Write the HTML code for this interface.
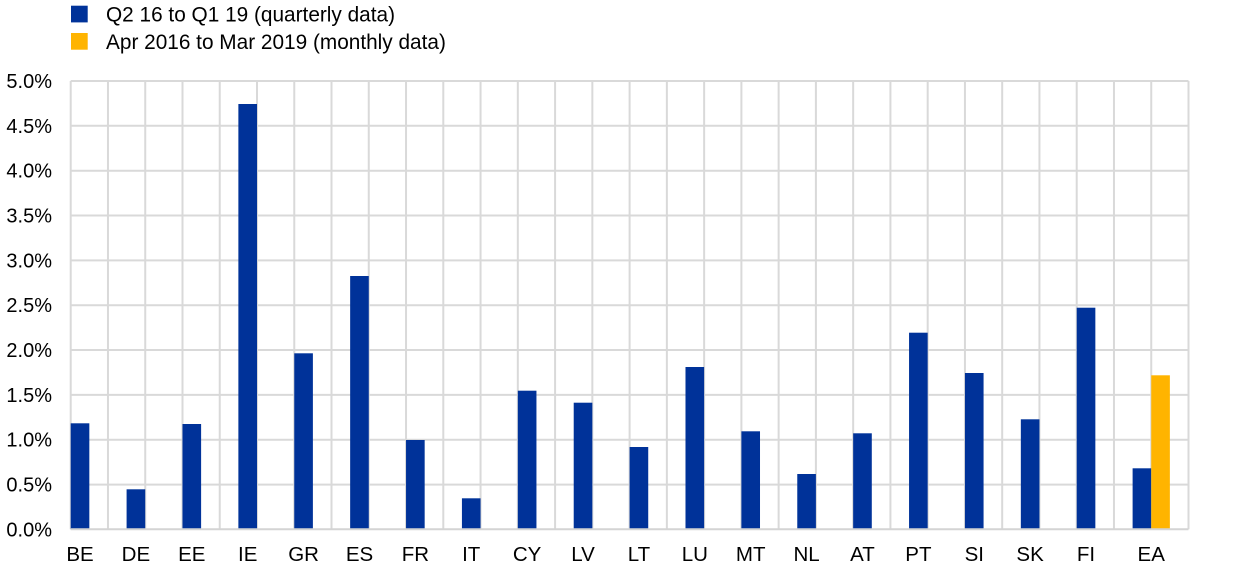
<!DOCTYPE html>
<html>
<head>
<meta charset="utf-8">
<style>
  html, body { margin: 0; padding: 0; background: #ffffff; }
  svg { display: block; }
  text { font-family: "Liberation Sans", Arial, sans-serif; fill: #000; }
</style>
</head>
<body>
<svg width="1240" height="575" viewBox="0 0 1240 575" xmlns="http://www.w3.org/2000/svg">
  <!-- Legend -->
  <rect x="71" y="5.7" width="16.7" height="16.7" fill="#003299"/>
  <text x="106" y="21.5" font-size="20.8">Q2 16 to Q1 19 (quarterly data)</text>
  <rect x="71" y="33" width="16.7" height="16.7" fill="#FFB400"/>
  <text x="106" y="48.8" font-size="20.8">Apr 2016 to Mar 2019 (monthly data)</text>

  <!-- Horizontal gridlines -->
  <g stroke="#d9d9d9" stroke-width="2">
    <line x1="70.7" y1="81" x2="1188.5" y2="81"/>
    <line x1="70.7" y1="125.8" x2="1188.5" y2="125.8"/>
    <line x1="70.7" y1="170.7" x2="1188.5" y2="170.7"/>
    <line x1="70.7" y1="215.5" x2="1188.5" y2="215.5"/>
    <line x1="70.7" y1="260.4" x2="1188.5" y2="260.4"/>
    <line x1="70.7" y1="305.2" x2="1188.5" y2="305.2"/>
    <line x1="70.7" y1="350.0" x2="1188.5" y2="350.0"/>
    <line x1="70.7" y1="394.9" x2="1188.5" y2="394.9"/>
    <line x1="70.7" y1="439.7" x2="1188.5" y2="439.7"/>
    <line x1="70.7" y1="484.6" x2="1188.5" y2="484.6"/>
  </g>
  <!-- Vertical gridlines -->
  <g stroke="#d9d9d9" stroke-width="2">
    <line x1="70.7" y1="81" x2="70.7" y2="529.3"/>
    <line x1="107.96" y1="81" x2="107.96" y2="529.3"/>
    <line x1="145.22" y1="81" x2="145.22" y2="529.3"/>
    <line x1="182.48" y1="81" x2="182.48" y2="529.3"/>
    <line x1="219.74" y1="81" x2="219.74" y2="529.3"/>
    <line x1="257.0" y1="81" x2="257.0" y2="529.3"/>
    <line x1="294.26" y1="81" x2="294.26" y2="529.3"/>
    <line x1="331.52" y1="81" x2="331.52" y2="529.3"/>
    <line x1="368.78" y1="81" x2="368.78" y2="529.3"/>
    <line x1="406.04" y1="81" x2="406.04" y2="529.3"/>
    <line x1="443.3" y1="81" x2="443.3" y2="529.3"/>
    <line x1="480.56" y1="81" x2="480.56" y2="529.3"/>
    <line x1="517.82" y1="81" x2="517.82" y2="529.3"/>
    <line x1="555.08" y1="81" x2="555.08" y2="529.3"/>
    <line x1="592.34" y1="81" x2="592.34" y2="529.3"/>
    <line x1="629.6" y1="81" x2="629.6" y2="529.3"/>
    <line x1="666.86" y1="81" x2="666.86" y2="529.3"/>
    <line x1="704.12" y1="81" x2="704.12" y2="529.3"/>
    <line x1="741.38" y1="81" x2="741.38" y2="529.3"/>
    <line x1="778.64" y1="81" x2="778.64" y2="529.3"/>
    <line x1="815.9" y1="81" x2="815.9" y2="529.3"/>
    <line x1="853.16" y1="81" x2="853.16" y2="529.3"/>
    <line x1="890.42" y1="81" x2="890.42" y2="529.3"/>
    <line x1="927.68" y1="81" x2="927.68" y2="529.3"/>
    <line x1="964.94" y1="81" x2="964.94" y2="529.3"/>
    <line x1="1002.2" y1="81" x2="1002.2" y2="529.3"/>
    <line x1="1039.46" y1="81" x2="1039.46" y2="529.3"/>
    <line x1="1076.72" y1="81" x2="1076.72" y2="529.3"/>
    <line x1="1113.98" y1="81" x2="1113.98" y2="529.3"/>
    <line x1="1151.24" y1="81" x2="1151.24" y2="529.3"/>
    <line x1="1188.5" y1="81" x2="1188.5" y2="529.3"/>
  </g>

  <!-- Bars -->
  <g fill="#003299">
    <rect x="70.7"   y="423.3" width="18.63" height="106.0"/>
    <rect x="126.59" y="489.3" width="18.63" height="40.0"/>
    <rect x="182.48" y="424.0" width="18.63" height="105.3"/>
    <rect x="238.37" y="104.0" width="18.63" height="425.3"/>
    <rect x="294.26" y="353.3" width="18.63" height="176.0"/>
    <rect x="350.15" y="276.0" width="18.63" height="253.3"/>
    <rect x="406.04" y="440.0" width="18.63" height="89.3"/>
    <rect x="461.93" y="498.3" width="18.63" height="31.0"/>
    <rect x="517.82" y="390.7" width="18.63" height="138.6"/>
    <rect x="573.71" y="402.7" width="18.63" height="126.6"/>
    <rect x="629.6"  y="447.0" width="18.63" height="82.3"/>
    <rect x="685.49" y="367.0" width="18.63" height="162.3"/>
    <rect x="741.38" y="431.3" width="18.63" height="98.0"/>
    <rect x="797.27" y="474.0" width="18.63" height="55.3"/>
    <rect x="853.16" y="433.3" width="18.63" height="96.0"/>
    <rect x="909.05" y="332.7" width="18.63" height="196.6"/>
    <rect x="964.94" y="373.0" width="18.63" height="156.3"/>
    <rect x="1020.83" y="419.3" width="18.63" height="110.0"/>
    <rect x="1076.72" y="307.7" width="18.63" height="221.6"/>
    <rect x="1132.61" y="468.3" width="18.63" height="61.0"/>
  </g>
  <rect x="1151.24" y="375.3" width="18.63" height="154.0" fill="#FFB400"/>

  <!-- Bottom axis line -->
  <line x1="70.7" y1="529.3" x2="1188.5" y2="529.3" stroke="#d4d4d4" stroke-width="2"/>

  <!-- Y axis labels -->
  <g font-size="20" text-anchor="end">
    <text x="52" y="88">5.0%</text>
    <text x="52" y="132.8">4.5%</text>
    <text x="52" y="177.7">4.0%</text>
    <text x="52" y="222.5">3.5%</text>
    <text x="52" y="267.4">3.0%</text>
    <text x="52" y="312.2">2.5%</text>
    <text x="52" y="357.0">2.0%</text>
    <text x="52" y="401.9">1.5%</text>
    <text x="52" y="446.7">1.0%</text>
    <text x="52" y="491.6">0.5%</text>
    <text x="52" y="536.4">0.0%</text>
  </g>

  <!-- X axis labels -->
  <g font-size="20.5" text-anchor="middle">
    <text x="80.0"   y="561">BE</text>
    <text x="135.9"  y="561">DE</text>
    <text x="191.8"  y="561">EE</text>
    <text x="247.7"  y="561">IE</text>
    <text x="303.6"  y="561">GR</text>
    <text x="359.5"  y="561">ES</text>
    <text x="415.4"  y="561">FR</text>
    <text x="471.2"  y="561">IT</text>
    <text x="527.1"  y="561">CY</text>
    <text x="583.0"  y="561">LV</text>
    <text x="638.9"  y="561">LT</text>
    <text x="694.8"  y="561">LU</text>
    <text x="750.7"  y="561">MT</text>
    <text x="806.6"  y="561">NL</text>
    <text x="862.5"  y="561">AT</text>
    <text x="918.4"  y="561">PT</text>
    <text x="974.3"  y="561">SI</text>
    <text x="1030.1" y="561">SK</text>
    <text x="1086.0" y="561">FI</text>
    <text x="1151.2" y="561">EA</text>
  </g>
</svg>
</body>
</html>
